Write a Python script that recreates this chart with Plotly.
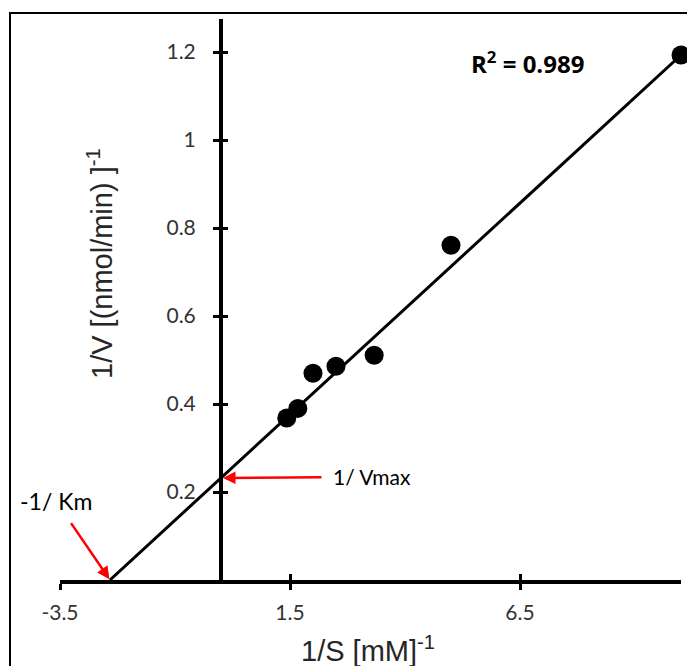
import plotly.graph_objects as go

# ---- data ----
inv_s = [1.43, 1.67, 2.0, 2.5, 3.33, 5.0, 10.0]          # 1/S [mM]^-1
inv_v = [0.368, 0.390, 0.470, 0.486, 0.511, 0.761, 1.193]  # 1/V
trend_slope = 0.0961
trend_intercept = 0.232
r_squared_label = "0.989"

x_ticks = [-3.5, 1.5, 6.5]
x_tick_labels = ["-3.5", "1.5", "6.5"]
y_ticks = [0.2, 0.4, 0.6, 0.8, 1.0, 1.2]
y_tick_labels = ["0.2", "0.4", "0.6", "0.8", "1", "1.2"]
x_range = [-3.5, 10.0]
y_range = [0.0, 1.275]

# ---- layout geometry ----
W, H = 687, 666
ML, MR, MT, MB = 60, 6, 19, 86
PW, PH = W - ML - MR, H - MT - MB

def px_to_paper_x(px):
    return (px - ML) / PW

def px_to_paper_y(py):
    return (H - MB - py) / PH

y_axis_pos = (0 - x_range[0]) / (x_range[1] - x_range[0])

x_int = -trend_intercept / trend_slope
line_x = [x_int, max(inv_s)]
line_y = [trend_slope * v + trend_intercept for v in line_x]

calib = "Lato, 'Open Sans', sans-serif"
opens = "'Open Sans', Lato, sans-serif"
arial = "'Liberation Sans', Arial, sans-serif"

fig = go.Figure()
fig.add_trace(go.Scatter(x=line_x, y=line_y, mode="lines",
                         line=dict(color="black", width=3),
                         hoverinfo="skip", showlegend=False,
                         xaxis="x", yaxis="y"))
fig.add_trace(go.Scatter(x=inv_s, y=inv_v, mode="markers",
                         marker=dict(color="black", size=19, line=dict(width=0)),
                         cliponaxis=False, showlegend=False,
                         xaxis="x2", yaxis="y2"))

common_x = dict(range=x_range, tickmode="array", tickvals=x_ticks,
                showgrid=False, zeroline=False, ticklen=6, tickwidth=3,
                tickcolor="black", automargin=False)
common_y = dict(range=y_range, tickmode="array", tickvals=y_ticks,
                showgrid=False, zeroline=False, ticklen=6, tickwidth=3,
                tickcolor="black", anchor="free", position=y_axis_pos,
                automargin=False)

fig.update_layout(
    width=W, height=H, autosize=False,
    margin=dict(l=ML, r=MR, t=MT, b=MB, pad=0),
    paper_bgcolor="white", plot_bgcolor="white",
    showlegend=False,
    xaxis=dict(**common_x, ticktext=x_tick_labels, ticks="outside",
               showline=True, linecolor="black", linewidth=4,
               ticklabelstandoff=5,
               tickfont=dict(family=calib, size=21, color="#333333")),
    yaxis=dict(**common_y, ticktext=y_tick_labels, ticks="outside",
               showline=True, linecolor="black", linewidth=4,
               ticklabelstandoff=13,
               tickfont=dict(family=calib, size=21, color="#333333")),
    xaxis2=dict(**common_x, overlaying="x", anchor="y2", side="bottom",
                ticks="inside", showticklabels=False, showline=False),
    yaxis2=dict(**common_y, overlaying="y", side="left",
                ticks="inside", showticklabels=False, showline=False),
)

annotations = [
    dict(text="1/S [mM]<sup>-1</sup>", xref="paper", yref="paper",
         x=px_to_paper_x(368), y=px_to_paper_y(649), showarrow=False,
         xanchor="center", yanchor="middle",
         font=dict(family=arial, size=29, color="#262626")),
    dict(text="1/V [(nmol/min) ]<sup>-1</sup>", xref="paper", yref="paper",
         x=px_to_paper_x(100), y=px_to_paper_y(264), showarrow=False,
         textangle=-90, xanchor="center", yanchor="middle",
         font=dict(family=arial, size=29, color="#262626")),
    dict(text="<b>R<sup>2</sup> = " + r_squared_label + "</b>",
         xref="paper", yref="paper",
         x=px_to_paper_x(527), y=px_to_paper_y(62), showarrow=False,
         xanchor="center", yanchor="middle",
         font=dict(family=opens, size=24, color="black")),
    dict(text="-1/ Km", x=x_int, y=0, xref="x", yref="y",
         showarrow=True, ax=-54, ay=-79, axref="pixel", ayref="pixel",
         arrowcolor="red", arrowwidth=2.5, arrowhead=2, arrowsize=1,
         startstandoff=8, standoff=1,
         font=dict(family=calib, size=23, color="black")),
    dict(text="1/ Vmax", x=0, y=trend_intercept, xref="x", yref="y",
         showarrow=True, ax=151, ay=-1, axref="pixel", ayref="pixel",
         arrowcolor="red", arrowwidth=2.5, arrowhead=2, arrowsize=1,
         startstandoff=10, standoff=2,
         font=dict(family=calib, size=21, color="black")),
]
fig.update_layout(annotations=annotations)

# outer frame of the chart
fig.add_shape(type="rect", xref="paper", yref="paper",
              x0=px_to_paper_x(10), y0=px_to_paper_y(H + 10),
              x1=px_to_paper_x(W + 10), y1=px_to_paper_y(13),
              line=dict(color="black", width=2), fillcolor="rgba(0,0,0,0)",
              layer="below")

fig.write_html(
    "out.html",
    config={"displayModeBar": False},
    post_script="document.body.style.margin='0';document.body.style.overflow='hidden';",
)
